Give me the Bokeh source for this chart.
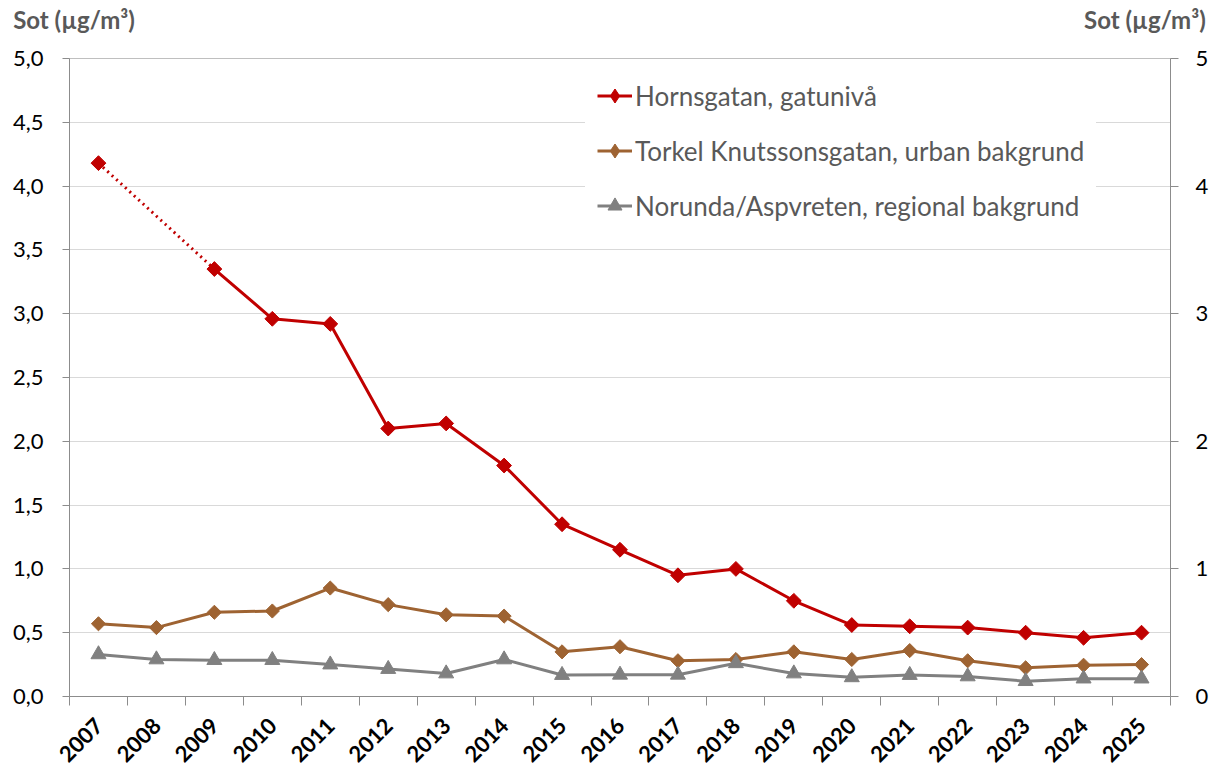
import math
from bokeh.plotting import figure
from bokeh.models import (Range1d, LinearAxis, FixedTicker, CustomJSTickFormatter,
                          Legend, LegendItem)
from bokeh.embed import file_html
from bokeh.resources import INLINE

# ---- data -------------------------------------------------------------
years = list(range(2007, 2026))
hornsgatan = [4.18, None, 3.35, 2.96, 2.92, 2.10, 2.14, 1.81, 1.35, 1.15,
              0.95, 1.00, 0.75, 0.56, 0.55, 0.54, 0.50, 0.46, 0.50]
torkel = [0.57, 0.54, 0.66, 0.67, 0.85, 0.72, 0.64, 0.63, 0.35, 0.39,
          0.28, 0.29, 0.35, 0.29, 0.36, 0.28, 0.225, 0.245, 0.25]
norunda = [0.33, 0.29, 0.285, 0.285, 0.25, 0.215, 0.18, 0.29, 0.168, 0.17,
           0.17, 0.26, 0.18, 0.15, 0.168, 0.157, 0.12, 0.14, 0.14]
series_names = ["Hornsgatan, gatunivå",
                "Torkel Knutssonsgatan, urban bakgrund",
                "Norunda/Aspvreten, regional bakgrund"]
left_ticks = [0.0, 0.5, 1.0, 1.5, 2.0, 2.5, 3.0, 3.5, 4.0, 4.5, 5.0]
right_ticks = [0, 1, 2, 3, 4, 5]
axis_title = "Sot (µg/m³)"

# ---- styles -----------------------------------------------------------
RED = "#C00000"
BROWN = "#9E6332"
GREY = "#808080"
AXIS = "#8c8c8c"
FONT = "Lato"

p = figure(x_range=Range1d(years[0] - 0.5, years[-1] + 0.5),
           y_range=Range1d(0, 5),
           width=1213, height=772,
           min_border_left=69, min_border_top=58, min_border_right=43,
           min_border_bottom=76,
           output_backend="svg", toolbar_location=None,
           background_fill_color="white", border_fill_color="white")
p.extra_y_ranges = {"r": Range1d(0, 5)}
p.extra_x_ranges = {"t": Range1d(0, 1)}
p.outline_line_color = "#bfbfbf"

# x axis
xa = p.xaxis[0]
xa.ticker = FixedTicker(ticks=years, minor_ticks=[y - 0.5 for y in years] + [years[-1] + 0.5])
xa.formatter = CustomJSTickFormatter(code="return tick.toFixed(0)")
xa.major_tick_line_color = None
xa.major_tick_in = 0
xa.major_tick_out = 9
xa.minor_tick_in = 0
xa.minor_tick_out = 9
xa.minor_tick_line_color = AXIS
xa.axis_line_color = AXIS
xa.major_label_orientation = math.pi / 4
xa.major_label_standoff = 16
xa.major_label_text_font = FONT
xa.major_label_text_font_size = "22px"
xa.major_label_text_font_style = "bold"
xa.major_label_text_color = "black"

# left axis
ya = p.yaxis[0]
ya.ticker = FixedTicker(ticks=left_ticks)
ya.formatter = CustomJSTickFormatter(code="return tick.toFixed(1).replace('.', ',')")
ya.major_tick_in = 0
ya.major_tick_out = 7
ya.minor_tick_line_color = None
ya.major_tick_line_color = AXIS
ya.axis_line_color = AXIS
ya.major_label_standoff = 19
ya.major_label_text_font = FONT
ya.major_label_text_font_size = "22px"
ya.major_label_text_color = "black"

# right axis
ra = LinearAxis(y_range_name="r", ticker=FixedTicker(ticks=right_ticks))
ra.major_tick_in = 0
ra.major_tick_out = 8
ra.minor_tick_line_color = None
ra.major_tick_line_color = AXIS
ra.axis_line_color = AXIS
ra.major_label_standoff = 17
ra.major_label_text_font = FONT
ra.major_label_text_font_size = "22px"
ra.major_label_text_color = "black"
p.add_layout(ra, "right")

# top "axis" carrying the two unit titles (left and right)
ta = LinearAxis(x_range_name="t", ticker=FixedTicker(ticks=[0.0041, 0.9768]),
                formatter=CustomJSTickFormatter(code="return %r" % axis_title))
ta.axis_line_color = None
ta.major_tick_line_color = None
ta.minor_tick_line_color = None
ta.major_tick_in = 0
ta.major_tick_out = 0
ta.major_label_standoff = 25
ta.major_label_text_font = FONT
ta.major_label_text_font_size = "24px"
ta.major_label_text_font_style = "bold"
ta.major_label_text_color = "#595959"
p.add_layout(ta, "above")

p.xgrid.visible = False
p.ygrid.ticker = FixedTicker(ticks=left_ticks)
p.ygrid.grid_line_color = "#d9d9d9"
p.ygrid.grid_line_width = 1

# ---- series -----------------------------------------------------------
nan = float("nan")
h_line = [nan if v is None else v for v in hornsgatan]

# dotted connector across missing values
for i, v in enumerate(hornsgatan):
    if v is None:
        a = max(j for j in range(i) if hornsgatan[j] is not None)
        b = min(j for j in range(i + 1, len(years)) if hornsgatan[j] is not None)
        p.line([years[a], years[b]], [hornsgatan[a], hornsgatan[b]],
               line_color=RED, line_width=3, line_dash="2 4")

hx = [y for y, v in zip(years, hornsgatan) if v is not None]
hy = [v for v in hornsgatan if v is not None]
r1l = p.line(years, h_line, line_color=RED, line_width=3)
p.scatter(hx, hy, marker="square", angle=math.pi / 4, size=10.5,
          fill_color=RED, line_color=RED)

r2l = p.line(years, torkel, line_color=BROWN, line_width=3)
p.scatter(years, torkel, marker="square", angle=math.pi / 4, size=10,
          fill_color=BROWN, line_color=BROWN)

r3l = p.line(years, norunda, line_color=GREY, line_width=3)
r3m = p.scatter(years, norunda, marker="triangle", size=15,
                fill_color=GREY, line_color=GREY)

# legend-only marker glyphs (a single undefined point, not drawn in the plot)
k1 = p.scatter([nan], [nan], marker="diamond", fill_color=RED, line_color=RED)
k2 = p.scatter([nan], [nan], marker="diamond", fill_color=BROWN, line_color=BROWN)

legend = Legend(items=[LegendItem(label=series_names[0], renderers=[r1l, k1]),
                       LegendItem(label=series_names[1], renderers=[r2l, k2]),
                       LegendItem(label=series_names[2], renderers=[r3l, r3m])],
                location=(516, 460), margin=0, padding=12,
                glyph_width=35, glyph_height=37, label_height=32,
                label_standoff=3, spacing=18,
                label_text_font=FONT, label_text_font_size="26px",
                label_text_color="#595959",
                border_line_alpha=0, background_fill_color="white",
                background_fill_alpha=1)
p.add_layout(legend, "center")

open("out.html", "w").write(file_html(p, INLINE))
